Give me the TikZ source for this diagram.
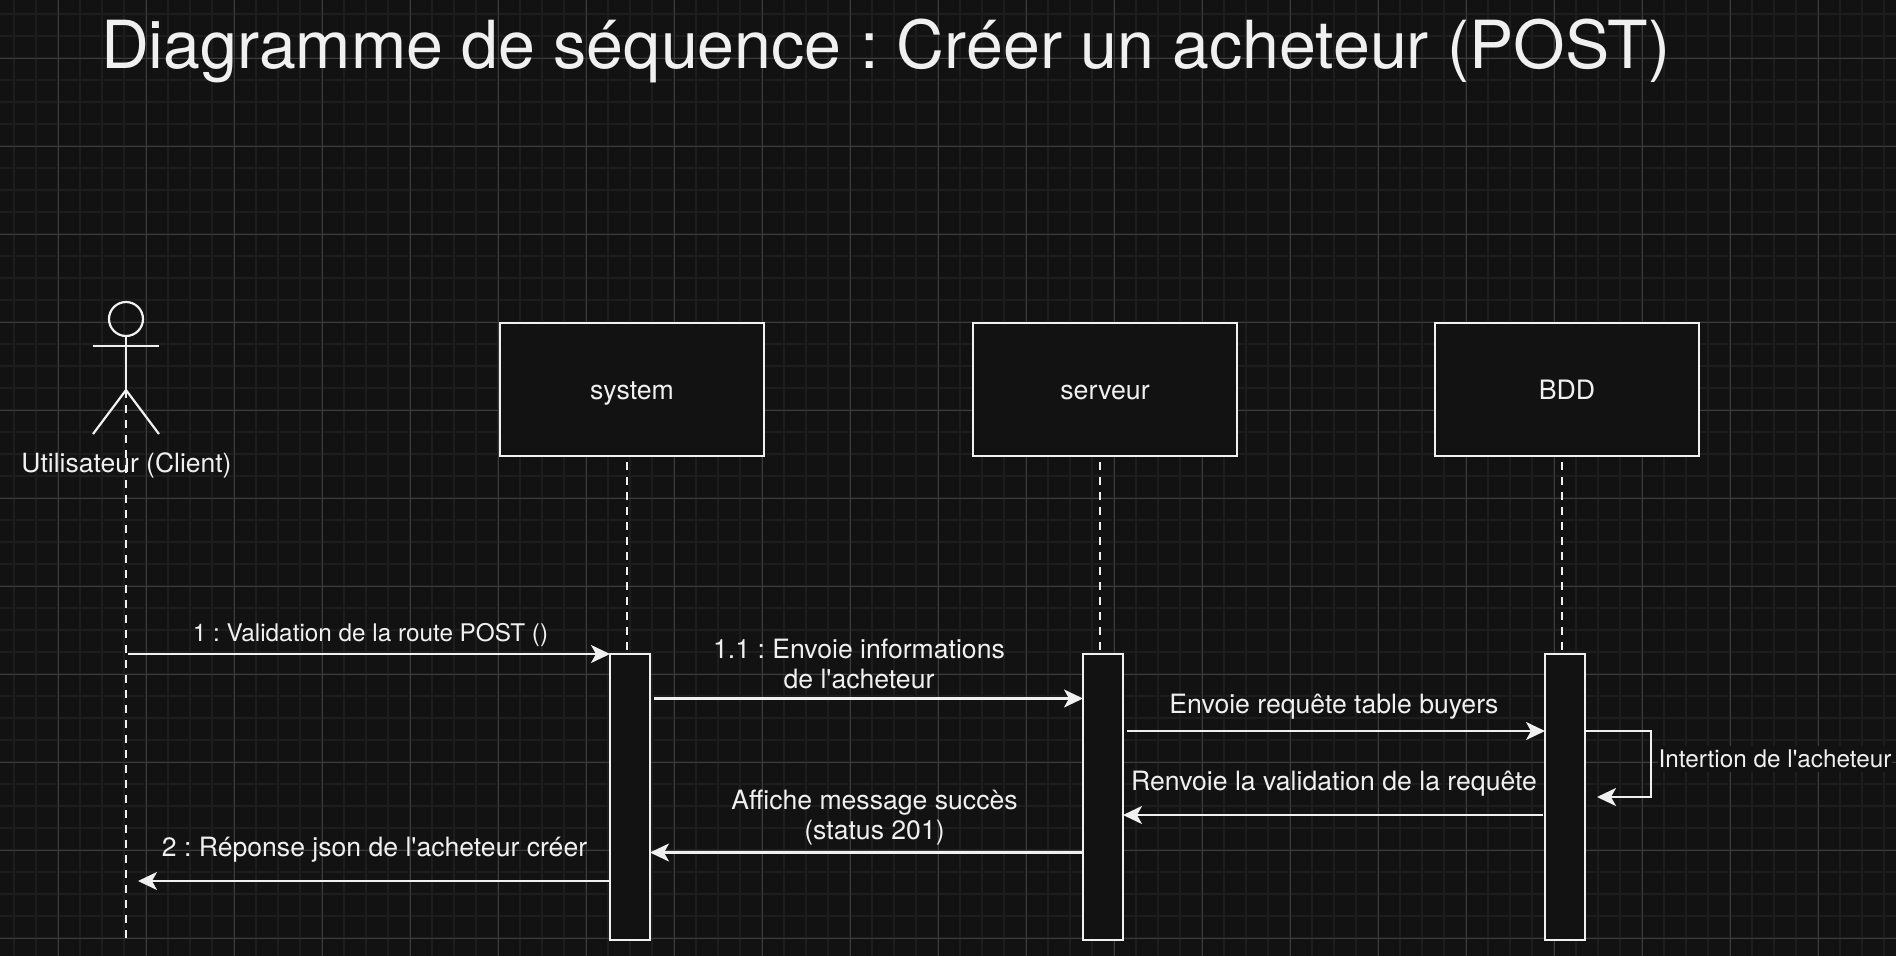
\documentclass[tikz,border=0pt]{standalone}
\usepackage{fontspec}
\newfontfamily\hv{TeX Gyre Heros}
\usetikzlibrary{arrows.meta,calc}
\definecolor{bgc}{HTML}{121212}
\definecolor{minorc}{HTML}{1D1D1D}
\definecolor{majorc}{HTML}{3C3C3C}
\definecolor{fgc}{HTML}{F0F0F0}
\tikzset{
  x=1pt,y=-1pt,
  every node/.style={text=fgc,inner sep=0pt,outer sep=0pt},
  box/.style={draw=fgc,fill=bgc,line width=2.2pt,minimum width=264pt,minimum height=133pt,font=\hv\frenchspacing\fontsize{26.7}{31}\selectfont,text height=19pt,text depth=0pt},
  bar/.style={draw=fgc,fill=bgc,line width=2.2pt,minimum width=40pt,minimum height=286pt},
  msg/.style={draw=fgc,line width=2.2pt,-{Stealth[length=19pt,width=18pt,inset=5pt]}},
  life/.style={draw=fgc,line width=2.2pt,dash pattern=on 8pt off 7pt},
  stick/.style={draw=fgc,line width=2.2pt},
  lab/.style={font=\hv\frenchspacing\fontsize{26.6}{30.8}\selectfont,align=center},
  labs/.style={font=\hv\frenchspacing\fontsize{24.3}{31}\selectfont,align=center},
}
\begin{document}
\begin{tikzpicture}
\useasboundingbox (0,0) rectangle (1896,956);
\fill[bgc] (0,0) rectangle (1896,956);
\foreach \k in {0,...,86} {\draw[minorc,line width=2pt] ({14+22*\k},0) -- ({14+22*\k},956);}
\foreach \k in {0,...,43} {\draw[minorc,line width=2pt] (0,{14+22*\k}) -- (1896,{14+22*\k});}
\foreach \k in {0,...,21} {\draw[majorc,line width=1pt] ({58.5+88*\k},0) -- ({58.5+88*\k},956);}
\foreach \k in {0,...,10} {\draw[majorc,line width=1pt] (0,{58+88*\k}) -- (1896,{58+88*\k});}

\node[font=\hv\frenchspacing\fontsize{66.3}{70}\selectfont,anchor=base west] (title) at (101,68) {Diagramme de séquence : Créer un acheteur (POST)};

% actor
\node[draw=fgc,line width=2.2pt,circle,minimum size=34pt] (head) at (126,319) {};
\coordinate (neck) at (126,336);
\coordinate (hip) at (126,390);
\coordinate (armL) at (93,346);
\coordinate (armR) at (159,346);
\coordinate (legL) at (93,434);
\coordinate (legR) at (159,434);
\node[font=\hv\frenchspacing\fontsize{26.5}{30}\selectfont] (actor) at (126.5,465) {Utilisateur (Client)};
\coordinate (actend) at (126,940);
\draw[life] (hip) -- (actend);
\draw[stick] (head.south) -- (hip);
\draw[stick] (armL) -- (armR);
\draw[stick] (legL) -- (hip) -- (legR);

% boxes
\node[box] (sys) at (632,389.5) {system};
\node[box] (srv) at (1105,389.5) {serveur};
\node[box] (bdd) at (1567,389.5) {BDD};

% bars
\node[bar] (sysbar) at (630,797) {};
\node[bar] (srvbar) at (1103,797) {};
\node[bar] (bddbar) at (1565,797) {};

% lifelines
\draw[life] ($(sys.south)+(-5,6)$) -- ($(sysbar.north)+(-3,0)$);
\draw[life] ($(srv.south)+(-5,6)$) -- ($(srvbar.north)+(-3,0)$);
\draw[life] ($(bdd.south)+(-5,6)$) -- ($(bddbar.north)+(-3,0)$);

% messages
\coordinate (m1s) at (128,654);
\draw[msg] (m1s) -- (sysbar.north west);
\node[labs] (l1) at (370.5,635) {1 : Validation de la route POST ()};

\draw[msg] ($(sysbar.north east)+(4,44.5)$) -- ($(srvbar.north west)+(0,44.5)$);
\node[lab] (l11) at (859,664) {1.1 : Envoie informations\\de l'acheteur};

\draw[msg] ($(srvbar.north east)+(4,77)$) -- ($(bddbar.north west)+(0,77)$);
\node[lab] (l3) at (1334,707) {Envoie requête table buyers};

\draw[msg] ($(bddbar.north east)+(0,77)$) -| ($(bddbar.north east)+(66,143)$) -- ($(bddbar.north east)+(12,143)$);
\node[labs,fill=bgc,inner ysep=4pt,inner xsep=1pt] (l4) at (1775,759) {Intertion de l'acheteur};

\draw[msg] ($(bddbar.north west)+(-2,161)$) -- ($(srvbar.north east)+(0,161)$);
\node[lab] (l5) at (1334,784) {Renvoie la validation de la requête};

\draw[msg] ($(srvbar.north west)+(0,198.5)$) -- ($(sysbar.north east)+(0,198.5)$);
\node[lab] (l6) at (874.5,817.5) {Affiche message succès\\(status 201)};

\draw[msg] ($(sysbar.north west)+(0,227)$) -- (138,881);
\node[lab] (l7) at (374.5,850) {2 : Réponse json de l'acheteur créer};
\end{tikzpicture}
\end{document}
